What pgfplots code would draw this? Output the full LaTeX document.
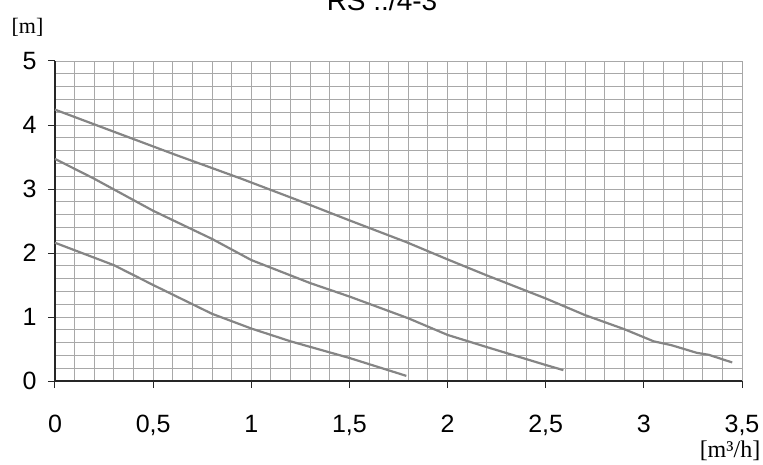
\documentclass[border=0pt]{standalone}
\usepackage{fontspec}
\setmainfont{Liberation Sans}
\newfontfamily\seriffont{Liberation Serif}
\usepackage{pgfplots}
\pgfplotsset{compat=1.18}
\definecolor{curve}{HTML}{858585}
\definecolor{gridc}{HTML}{A8A8A8}
\begin{document}
\begin{tikzpicture}
\useasboundingbox (-55pt,-83pt) rectangle (708pt,381pt);
\begin{axis}[
    at={(0pt,0pt)}, anchor=south west,
    scale only axis, width=687pt, height=320pt,
    xmin=0, xmax=3.5, ymin=0, ymax=5,
    xtick={0,0.5,...,3.5}, ytick={0,1,...,5},
    minor x tick num=4, minor y tick num=4,
    grid=both,
    major grid style={draw=gridc, line width=0.9pt},
    minor grid style={draw=gridc, line width=0.9pt},
    axis x line=bottom, axis y line=left,
    axis line style={-, draw=black!85, line width=1.3pt},
    tick align=outside, major tick length=7pt, minor tick length=0pt,
    tick style={draw=black!85, line width=1pt},
    ticklabel style={font=\fontsize{25}{25}\selectfont},
    xticklabel style={yshift=-24pt},
    yticklabel style={xshift=-8pt},
    /pgf/number format/use comma,
    /pgf/number format/assume math mode=true,
    clip=false,
]
% top curve
\addplot[curve, line width=2.2pt] coordinates {
    (0,4.24) (0.2,4.01) (0.6,3.55) (0.95,3.16) (1.25,2.81) (1.5,2.51)
    (1.79,2.17) (2.0,1.90) (2.2,1.65) (2.5,1.29) (2.7,1.03) (2.9,0.81)
    (3.05,0.62) (3.14,0.56) (3.27,0.44) (3.33,0.41) (3.45,0.29) };
% middle curve
\addplot[curve, line width=2.2pt] coordinates {
    (0,3.47) (0.2,3.16) (0.5,2.66) (0.8,2.22) (1.0,1.89) (1.2,1.65)
    (1.3,1.53) (1.5,1.32) (1.8,0.98) (2.0,0.72) (2.2,0.53) (2.5,0.25)
    (2.59,0.17) };
% bottom curve
\addplot[curve, line width=2.2pt] coordinates {
    (0,2.16) (0.3,1.81) (0.5,1.50) (0.8,1.05) (1.0,0.82) (1.2,0.62)
    (1.5,0.36) (1.79,0.08) };
\end{axis}
\node[anchor=base, font=\fontsize{28}{28}\selectfont] at (327pt,370pt) {RS ../4-3};
\node[font=\seriffont\fontsize{22}{22}\selectfont] at (-27.5pt,354pt) {[m]};
\node[font=\seriffont\fontsize{24}{24}\selectfont] at (675pt,-70pt) {[m³/h]};
\end{tikzpicture}
\end{document}
